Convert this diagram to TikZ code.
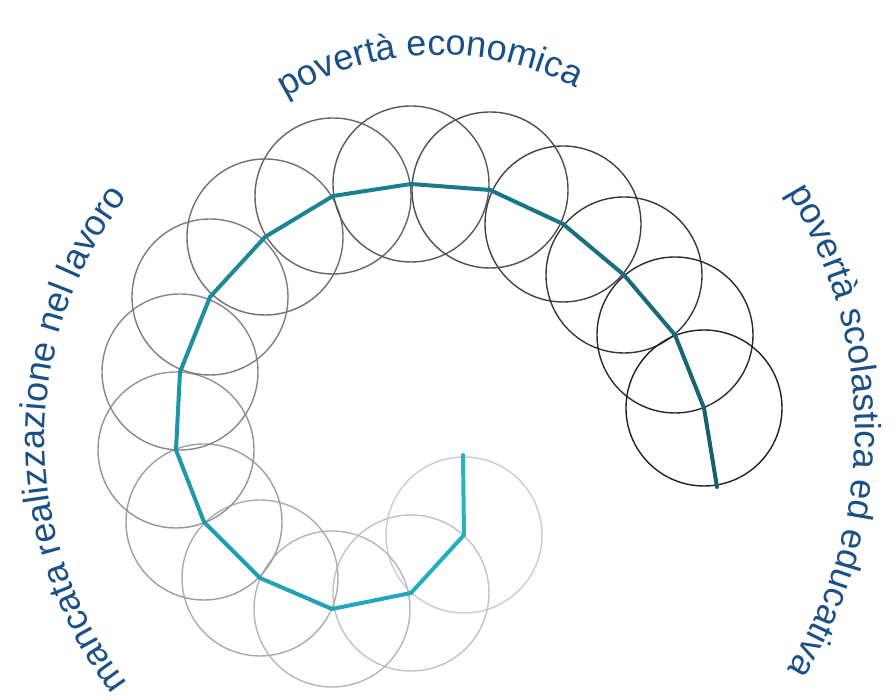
\documentclass[tikz,border=0pt]{standalone}
\usepackage{fontspec}
\usepackage{xcolor}
\usetikzlibrary{decorations.text}

\newfontfamily\labelfont{Liberation Sans}
\definecolor{labelblue}{RGB}{27,80,135}
\definecolor{spirallight}{RGB}{35,178,200}
\definecolor{spiraldark}{RGB}{22,96,108}

\begin{document}
\begin{tikzpicture}[
  x=0.5pt, y=0.5pt,
  ring/.style={line width=0.7pt},
  spiral/.style={line width=2pt, line cap=round, line join=round},
  curved/.style={decorate, decoration={text along path, text align=center, text color=labelblue}},
]
\useasboundingbox (0,0) rectangle (896,700);

% Ring centres along the spiral
\foreach \x/\y [count=\i] in {464/165, 411/107, 332/91, 260/122, 204/178, 176/250,
    180/328, 210/403, 265/463, 333/504, 411/516, 490/510, 563/476, 624/425,
    675/365, 704/292}
  \coordinate (c\i) at (\x,\y);
\coordinate (c0) at (463,245);   % loose start of the line
\coordinate (c17) at (717,213);  % loose end of the line

% Rings, light to dark
\foreach \i in {1,...,16} {
  \pgfmathtruncatemacro\shade{20+(\i-1)*4.5}
  \draw[ring, black!\shade] (c\i) circle[radius=78];
}

% Spiral line, cyan to teal
\foreach \i in {0,...,16} {
  \pgfmathtruncatemacro\j{\i+1}
  \pgfmathtruncatemacro\mix{\i*100/16}
  \draw[spiral, spiraldark!\mix!spirallight] (c\i) -- (c\j);
}

% Labels around the spiral
\path[curved, decoration={text={|\labelfont\fontsize{18}{20}\selectfont|povertà economica}}]
  (440,345) ++(162:300) arc[start angle=162, end angle=22, radius=300];
\path[curved, decoration={text={|\labelfont\fontsize{18}{20}\selectfont|povertà scolastica ed educativa}}]
  (403,269) ++(60:452) arc[start angle=60, end angle=-60, radius=452];
\path[curved, decoration={text={|\labelfont\fontsize{18}{20}\selectfont|mancata realizzazione nel lavoro}}]
  (445,260) ++(240:400) arc[start angle=240, end angle=120, radius=400];

\end{tikzpicture}
\end{document}
